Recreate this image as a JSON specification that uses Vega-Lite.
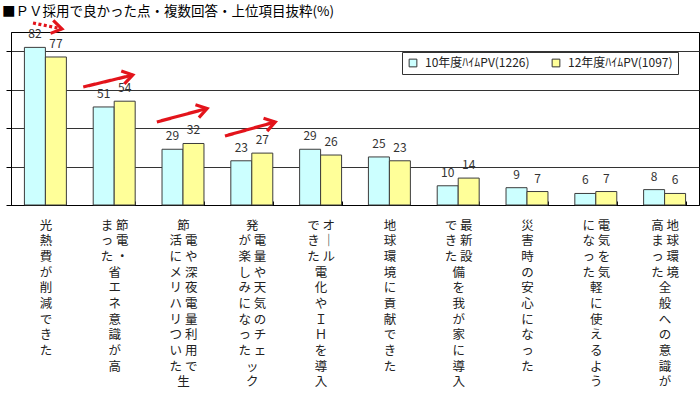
{
  "$schema": "https://vega.github.io/schema/vega-lite/v6.json",
  "width": 688,
  "height": 173,
  "autosize": {"type": "none"},
  "padding": {"left": 11, "top": 32, "right": 1, "bottom": 189},
  "background": "#ffffff",
  "title": {
    "text": "■ＰＶ採用で良かった点・複数回答・上位項目抜粋(%)",
    "anchor": "start",
    "frame": "group",
    "dx": -9,
    "dy": 20,
    "offset": 15,
    "font": "Noto Sans CJK JP",
    "fontSize": 13.5,
    "fontWeight": "normal",
    "color": "#000000"
  },
  "datasets": {
    "bars": [
      {"category": "光|熱|費|が|削|減|で|き|た", "series": "10年度ﾊｲﾑPV(1226)", "value": 82},
      {"category": "光|熱|費|が|削|減|で|き|た", "series": "12年度ﾊｲﾑPV(1097)", "value": 77},
      {"category": "ま 節|っ 電|た ・|　 省|　 エ|　 ネ|　 意|　 識|　 が|　 高", "series": "10年度ﾊｲﾑPV(1226)", "value": 51},
      {"category": "ま 節|っ 電|た ・|　 省|　 エ|　 ネ|　 意|　 識|　 が|　 高", "series": "12年度ﾊｲﾑPV(1097)", "value": 54},
      {"category": "　 節|活 電|に や|メ 深|リ 夜|ハ 電|リ 量|つ 利|い 用|た で|　 生", "series": "10年度ﾊｲﾑPV(1226)", "value": 29},
      {"category": "　 節|活 電|に や|メ 深|リ 夜|ハ 電|リ 量|つ 利|い 用|た で|　 生", "series": "12年度ﾊｲﾑPV(1097)", "value": 32},
      {"category": "　 発|が 電|楽 量|し や|み 天|に 気|な の|っ チ|た ェ|　 ッ|　 ク", "series": "10年度ﾊｲﾑPV(1226)", "value": 23},
      {"category": "　 発|が 電|楽 量|し や|み 天|に 気|な の|っ チ|た ェ|　 ッ|　 ク", "series": "12年度ﾊｲﾑPV(1097)", "value": 27},
      {"category": "で オ|き ｜|た ル|　 電|　 化|　 や|　 Ｉ|　 Ｈ|　 を|　 導|　 入", "series": "10年度ﾊｲﾑPV(1226)", "value": 29},
      {"category": "で オ|き ｜|た ル|　 電|　 化|　 や|　 Ｉ|　 Ｈ|　 を|　 導|　 入", "series": "12年度ﾊｲﾑPV(1097)", "value": 26},
      {"category": "地|球|環|境|に|貢|献|で|き|た", "series": "10年度ﾊｲﾑPV(1226)", "value": 25},
      {"category": "地|球|環|境|に|貢|献|で|き|た", "series": "12年度ﾊｲﾑPV(1097)", "value": 23},
      {"category": "で 最|き 新|た 設|　 備|　 を|　 我|　 が|　 家|　 に|　 導|　 入", "series": "10年度ﾊｲﾑPV(1226)", "value": 10},
      {"category": "で 最|き 新|た 設|　 備|　 を|　 我|　 が|　 家|　 に|　 導|　 入", "series": "12年度ﾊｲﾑPV(1097)", "value": 14},
      {"category": "災|害|時|の|安|心|に|な|っ|た", "series": "10年度ﾊｲﾑPV(1226)", "value": 9},
      {"category": "災|害|時|の|安|心|に|な|っ|た", "series": "12年度ﾊｲﾑPV(1097)", "value": 7},
      {"category": "に 電|な 気|っ を|た 気|　 軽|　 に|　 使|　 え|　 る|　 よ|　 う", "series": "10年度ﾊｲﾑPV(1226)", "value": 6},
      {"category": "に 電|な 気|っ を|た 気|　 軽|　 に|　 使|　 え|　 る|　 よ|　 う", "series": "12年度ﾊｲﾑPV(1097)", "value": 7},
      {"category": "高 地|ま 球|っ 環|た 境|　 全|　 般|　 へ|　 の|　 意|　 識|　 が", "series": "10年度ﾊｲﾑPV(1226)", "value": 8},
      {"category": "高 地|ま 球|っ 環|た 境|　 全|　 般|　 へ|　 の|　 意|　 識|　 が", "series": "12年度ﾊｲﾑPV(1097)", "value": 6}
    ],
    "arrows": [
      {"kind": "点線", "x1": 0.32, "y1": 94.7, "x2": 0.74, "y2": 91.6, "angle": 11.7},
      {"kind": "実線", "x1": 1.05, "y1": 61.4, "x2": 1.77, "y2": 67.6, "angle": -13.5},
      {"kind": "実線", "x1": 2.12, "y1": 43.2, "x2": 2.85, "y2": 50.2, "angle": -15.1},
      {"kind": "実線", "x1": 3.11, "y1": 35.9, "x2": 3.84, "y2": 43.2, "angle": -15.6}
    ]
  },
  "layer": [
    {
      "data": {"name": "bars"},
      "encoding": {
        "x": {
          "field": "category",
          "type": "nominal",
          "sort": null,
          "title": null,
          "scale": {"paddingInner": 0.39, "paddingOuter": 0.195},
          "axis": {
            "labelExpr": "split(datum.label, '|')",
            "labelAngle": 0,
            "labelAlign": "center",
            "labelBaseline": "top",
            "labelPadding": 18,
            "labelFont": "Noto Sans CJK JP",
            "labelFontSize": 12.5,
            "labelLineHeight": 15.7,
            "labelColor": "#222222",
            "labelOverlap": false,
            "labelLimit": 0,
            "tickBand": "extent",
            "tickSize": -4,
            "tickColor": "#000000",
            "domainColor": "#000000",
            "grid": false
          }
        },
        "xOffset": {"field": "series", "type": "nominal", "sort": ["10年度ﾊｲﾑPV(1226)", "12年度ﾊｲﾑPV(1097)"]},
        "y": {
          "field": "value",
          "type": "quantitative",
          "title": null,
          "scale": {"domain": [0, 90], "nice": false},
          "axis": {
            "values": [0, 10, 20, 30, 40, 50, 60, 70, 80, 90],
            "labels": false,
            "grid": true,
            "gridColor": "#333333",
            "gridOpacity": 1,
            "domainColor": "#000000",
            "tickColor": "#000000",
            "tickSize": 5
          }
        }
      },
      "layer": [
        {
          "mark": {"type": "bar", "stroke": "#3c3c3c", "strokeWidth": 1},
          "encoding": {
            "color": {
              "field": "series",
              "type": "nominal",
              "scale": {
                "domain": ["10年度ﾊｲﾑPV(1226)", "12年度ﾊｲﾑPV(1097)"],
                "range": ["#ccffff", "#ffff99"]
              },
              "legend": {
                "title": null,
                "orient": "none",
                "legendX": 391,
                "legendY": 20,
                "direction": "horizontal",
                "symbolType": "square",
                "symbolSize": 60,
                "symbolStrokeColor": "#333333",
                "symbolStrokeWidth": 1,
                "symbolOpacity": 1,
                "labelFont": "Noto Sans CJK JP",
                "labelFontSize": 12,
                "labelColor": "#222222",
                "labelOffset": 6,
                "columnPadding": 20,
                "padding": 5,
                "strokeColor": "#333333",
                "fillColor": "#ffffff"
              }
            }
          }
        },
        {
          "mark": {
            "type": "text",
            "baseline": "bottom",
            "dy": -6,
            "font": "Noto Sans CJK JP",
            "fontSize": 12,
            "color": "#333333"
          },
          "encoding": {"text": {"field": "value", "type": "quantitative"}}
        }
      ]
    },
    {
      "data": {"name": "arrows"},
      "encoding": {
        "x": {"field": "x1", "type": "quantitative", "scale": {"domain": [0, 10], "nice": false, "zero": false}, "axis": null},
        "y": {"field": "y1", "type": "quantitative", "title": null, "scale": {"domain": [0, 90], "nice": false}},
        "x2": {"field": "x2"},
        "y2": {"field": "y2"}
      },
      "layer": [
        {
          "mark": {"type": "rule", "color": "#e3141b", "strokeWidth": 3.2},
          "encoding": {
            "strokeDash": {
              "field": "kind",
              "type": "nominal",
              "scale": {"domain": ["実線", "点線"], "range": [[1, 0], [3, 2.5]]},
              "legend": null
            }
          }
        }
      ]
    },
    {
      "data": {"name": "arrows"},
      "mark": {
        "type": "point",
        "shape": "M-1,-0.65L0,0L-1,0.65",
        "filled": false,
        "stroke": "#e3141b",
        "strokeWidth": 3.2,
        "strokeJoin": "miter",
        "opacity": 1,
        "size": 420
      },
      "encoding": {
        "x": {"field": "x2", "type": "quantitative", "scale": {"domain": [0, 10], "nice": false, "zero": false}, "axis": null},
        "y": {"field": "y2", "type": "quantitative", "title": null, "scale": {"domain": [0, 90], "nice": false}},
        "angle": {"field": "angle", "type": "quantitative", "scale": null}
      }
    }
  ],
  "resolve": {"scale": {"x": "independent"}},
  "config": {
    "view": {"stroke": "#000000", "strokeWidth": 1}
  }
}
